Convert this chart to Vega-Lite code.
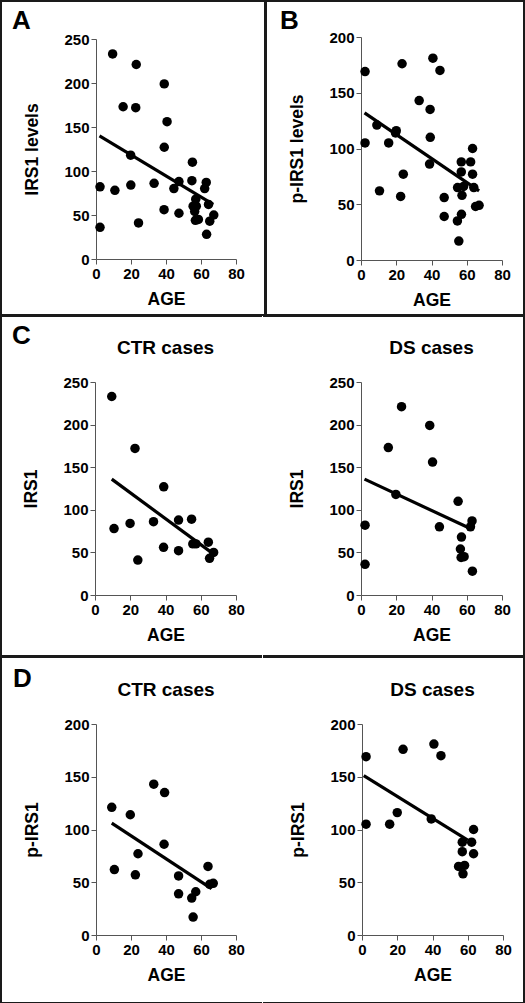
{
  "$schema": "https://vega.github.io/schema/vega-lite/v6.json",
  "padding": 0,
  "background": "white",
  "datasets": {
    "pts": [
      {"group": "CTR", "measure": "IRS1", "age": 9.5, "value": 233},
      {"group": "CTR", "measure": "IRS1", "age": 10.8, "value": 78},
      {"group": "CTR", "measure": "IRS1", "age": 19.9, "value": 84},
      {"group": "CTR", "measure": "IRS1", "age": 22.7, "value": 172},
      {"group": "CTR", "measure": "IRS1", "age": 24.3, "value": 41},
      {"group": "CTR", "measure": "IRS1", "age": 33.2, "value": 86},
      {"group": "CTR", "measure": "IRS1", "age": 39, "value": 127},
      {"group": "CTR", "measure": "IRS1", "age": 38.9, "value": 56},
      {"group": "CTR", "measure": "IRS1", "age": 47.4, "value": 88},
      {"group": "CTR", "measure": "IRS1", "age": 47.4, "value": 52},
      {"group": "CTR", "measure": "IRS1", "age": 54.8, "value": 89},
      {"group": "CTR", "measure": "IRS1", "age": 55.5, "value": 60},
      {"group": "CTR", "measure": "IRS1", "age": 57.3, "value": 60},
      {"group": "CTR", "measure": "IRS1", "age": 64.3, "value": 62},
      {"group": "CTR", "measure": "IRS1", "age": 65, "value": 43},
      {"group": "CTR", "measure": "IRS1", "age": 67.3, "value": 50},
      {"group": "DS", "measure": "IRS1", "age": 2.3, "value": 82},
      {"group": "DS", "measure": "IRS1", "age": 2.3, "value": 36},
      {"group": "DS", "measure": "IRS1", "age": 15.5, "value": 173},
      {"group": "DS", "measure": "IRS1", "age": 19.8, "value": 118},
      {"group": "DS", "measure": "IRS1", "age": 23, "value": 221},
      {"group": "DS", "measure": "IRS1", "age": 39, "value": 199},
      {"group": "DS", "measure": "IRS1", "age": 40.6, "value": 156},
      {"group": "DS", "measure": "IRS1", "age": 44.5, "value": 80},
      {"group": "DS", "measure": "IRS1", "age": 55.1, "value": 110},
      {"group": "DS", "measure": "IRS1", "age": 57, "value": 68},
      {"group": "DS", "measure": "IRS1", "age": 56.4, "value": 54},
      {"group": "DS", "measure": "IRS1", "age": 56.8, "value": 44},
      {"group": "DS", "measure": "IRS1", "age": 58.5, "value": 45},
      {"group": "DS", "measure": "IRS1", "age": 62.1, "value": 80},
      {"group": "DS", "measure": "IRS1", "age": 63, "value": 87},
      {"group": "DS", "measure": "IRS1", "age": 63.2, "value": 28},
      {"group": "CTR", "measure": "pIRS1", "age": 9, "value": 121},
      {"group": "CTR", "measure": "pIRS1", "age": 10.5, "value": 62},
      {"group": "CTR", "measure": "pIRS1", "age": 19.6, "value": 114},
      {"group": "CTR", "measure": "pIRS1", "age": 24, "value": 77},
      {"group": "CTR", "measure": "pIRS1", "age": 22.5, "value": 57},
      {"group": "CTR", "measure": "pIRS1", "age": 33, "value": 143},
      {"group": "CTR", "measure": "pIRS1", "age": 39.2, "value": 135},
      {"group": "CTR", "measure": "pIRS1", "age": 38.9, "value": 86},
      {"group": "CTR", "measure": "pIRS1", "age": 47.2, "value": 56},
      {"group": "CTR", "measure": "pIRS1", "age": 47.2, "value": 39},
      {"group": "CTR", "measure": "pIRS1", "age": 54.7, "value": 35},
      {"group": "CTR", "measure": "pIRS1", "age": 55.5, "value": 17},
      {"group": "CTR", "measure": "pIRS1", "age": 57, "value": 41},
      {"group": "CTR", "measure": "pIRS1", "age": 64, "value": 65},
      {"group": "CTR", "measure": "pIRS1", "age": 65, "value": 48},
      {"group": "CTR", "measure": "pIRS1", "age": 67, "value": 49},
      {"group": "DS", "measure": "pIRS1", "age": 2.3, "value": 169},
      {"group": "DS", "measure": "pIRS1", "age": 2.3, "value": 105},
      {"group": "DS", "measure": "pIRS1", "age": 15.7, "value": 105},
      {"group": "DS", "measure": "pIRS1", "age": 20, "value": 116},
      {"group": "DS", "measure": "pIRS1", "age": 23.3, "value": 176},
      {"group": "DS", "measure": "pIRS1", "age": 39.3, "value": 110},
      {"group": "DS", "measure": "pIRS1", "age": 40.8, "value": 181},
      {"group": "DS", "measure": "pIRS1", "age": 44.8, "value": 170},
      {"group": "DS", "measure": "pIRS1", "age": 54.8, "value": 65},
      {"group": "DS", "measure": "pIRS1", "age": 56.9, "value": 88},
      {"group": "DS", "measure": "pIRS1", "age": 56.9, "value": 79},
      {"group": "DS", "measure": "pIRS1", "age": 57.3, "value": 58},
      {"group": "DS", "measure": "pIRS1", "age": 58.2, "value": 66},
      {"group": "DS", "measure": "pIRS1", "age": 62.2, "value": 88},
      {"group": "DS", "measure": "pIRS1", "age": 63.3, "value": 100},
      {"group": "DS", "measure": "pIRS1", "age": 63.3, "value": 77}
    ],
    "fits": [
      {"panel": "A", "age": 2, "value": 140},
      {"panel": "A", "age": 67, "value": 62},
      {"panel": "B", "age": 2, "value": 132},
      {"panel": "B", "age": 67, "value": 62},
      {"panel": "C-CTR", "age": 9.5, "value": 136},
      {"panel": "C-CTR", "age": 66, "value": 50},
      {"panel": "C-DS", "age": 2, "value": 136},
      {"panel": "C-DS", "age": 62, "value": 78},
      {"panel": "D-CTR", "age": 9, "value": 106},
      {"panel": "D-CTR", "age": 66, "value": 44},
      {"panel": "D-DS", "age": 1, "value": 151},
      {"panel": "D-DS", "age": 60, "value": 90}
    ],
    "labels": [
      {"panel": "C-CTR", "label": "CTR cases"},
      {"panel": "C-DS", "label": "DS cases"},
      {"panel": "D-CTR", "label": "CTR cases"},
      {"panel": "D-DS", "label": "DS cases"}
    ]
  },
  "config": {
    "view": {"stroke": "#1a1a1a", "strokeWidth": 2},
    "font": "Liberation Sans",
    "axis": {
      "labelFont": "Liberation Sans", "labelFontSize": 15, "labelFontWeight": "bold", "labelColor": "#000",
      "titleFont": "Liberation Sans", "titleFontSize": 17.5, "titleFontWeight": "bold", "titleColor": "#000",
      "domainColor": "#555", "tickColor": "#555", "tickSize": 5, "labelPadding": 2, "grid": false,
      "labelFlush": false, "labelOverlap": false
    },
    "axisX": {"titlePadding": 9},
    "axisY": {"titlePadding": 22},
    "title": {"font": "Liberation Sans", "fontSize": 26, "fontWeight": "bold", "color": "#000", "anchor": "start", "frame": "group", "baseline": "alphabetic"},
    "text": {"font": "Liberation Sans", "fontSize": 19, "fontWeight": "bold", "color": "#000"}
  },
  "spacing": -2,
  "vconcat": [
    {
      "spacing": -2,
      "hconcat": [
        {
          "width": 264, "height": 314,
          "title": {"text": "A", "offset": -33, "dx": 11},
          "encoding": {
            "x": {"field": "age", "type": "quantitative", "title": "AGE",
                  "scale": {"domain": [0, 80], "range": [95, 235], "nice": false},
                  "axis": {"values": [0, 20, 40, 60, 80], "offset": -56}},
            "y": {"field": "value", "type": "quantitative", "title": "IRS1 levels",
                  "scale": {"domain": [0, 250], "range": [258, 38], "nice": false},
                  "axis": {"values": [0, 50, 100, 150, 200, 250], "offset": -95}}
          },
          "layer": [
            {"data": {"name": "pts"}, "transform": [{"filter": "datum.measure === 'IRS1'"}],
             "mark": {"type": "circle", "size": 90, "color": "#000", "opacity": 1}},
            {"data": {"name": "fits"}, "transform": [{"filter": "datum.panel === 'A'"}],
             "mark": {"type": "line", "color": "#000", "strokeWidth": 3.2}, "encoding": {}}
          ]
        },
        {
          "width": 258, "height": 314,
          "title": {"text": "B", "offset": -33, "dx": 14},
          "encoding": {
            "x": {"field": "age", "type": "quantitative", "title": "AGE",
                  "scale": {"domain": [0, 80], "range": [95, 236], "nice": false},
                  "axis": {"values": [0, 20, 40, 60, 80], "offset": -55}},
            "y": {"field": "value", "type": "quantitative", "title": "p-IRS1 levels",
                  "scale": {"domain": [0, 200], "range": [259, 36], "nice": false},
                  "axis": {"values": [0, 50, 100, 150, 200], "offset": -95}}
          },
          "layer": [
            {"data": {"name": "pts"}, "transform": [{"filter": "datum.measure === 'pIRS1'"}],
             "mark": {"type": "circle", "size": 90, "color": "#000", "opacity": 1}},
            {"data": {"name": "fits"}, "transform": [{"filter": "datum.panel === 'B'"}],
             "mark": {"type": "line", "color": "#000", "strokeWidth": 3.2}, "encoding": {}}
          ]
        }
      ]
    },
    {
      "spacing": -2,
      "hconcat": [
        {
          "width": 261, "height": 340,
          "view": {"stroke": "#1a1a1a", "strokeWidth": 2, "strokeDash": [261, 340, 601, 0]},
          "title": {"text": "C", "offset": -33, "dx": 11},
          "layer": [
            {"data": {"name": "pts"}, "transform": [{"filter": "datum.measure === 'IRS1' && datum.group === 'CTR'"}],
             "mark": {"type": "circle", "size": 90, "color": "#000", "opacity": 1},
             "encoding": {
               "x": {"field": "age", "type": "quantitative", "title": "AGE",
                     "scale": {"domain": [0, 80], "range": [94, 235], "nice": false},
                     "axis": {"values": [0, 20, 40, 60, 80], "offset": -61}},
               "y": {"field": "value", "type": "quantitative", "title": "IRS1",
                     "scale": {"domain": [0, 250], "range": [279, 66], "nice": false},
                     "axis": {"values": [0, 50, 100, 150, 200, 250], "offset": -94}}}},
            {"data": {"name": "fits"}, "transform": [{"filter": "datum.panel === 'C-CTR'"}],
             "mark": {"type": "line", "color": "#000", "strokeWidth": 3.2},
             "encoding": {
               "x": {"field": "age", "type": "quantitative", "title": "AGE",
                     "axis": {"values": [0, 20, 40, 60, 80], "offset": -61}},
               "y": {"field": "value", "type": "quantitative", "title": "IRS1",
                     "axis": {"values": [0, 50, 100, 150, 200, 250], "offset": -94}}}},
            {"data": {"name": "labels"}, "transform": [{"filter": "datum.panel === 'C-CTR'"}],
             "mark": {"type": "text", "baseline": "alphabetic", "align": "center"},
             "encoding": {
               "x": {"datum": 40, "type": "quantitative", "title": "AGE",
                     "axis": {"values": [0, 20, 40, 60, 80], "offset": -61}},
               "y": {"datum": 283, "type": "quantitative", "title": "IRS1",
                     "axis": {"values": [0, 50, 100, 150, 200, 250], "offset": -94}},
               "text": {"field": "label"}}}
          ]
        },
        {
          "width": 261, "height": 340,
          "view": {"stroke": "#1a1a1a", "strokeWidth": 2, "strokeDash": [862, 340]},
          "layer": [
            {"data": {"name": "pts"}, "transform": [{"filter": "datum.measure === 'IRS1' && datum.group === 'DS'"}],
             "mark": {"type": "circle", "size": 90, "color": "#000", "opacity": 1},
             "encoding": {
               "x": {"field": "age", "type": "quantitative", "title": "AGE",
                     "scale": {"domain": [0, 80], "range": [98, 239], "nice": false},
                     "axis": {"values": [0, 20, 40, 60, 80], "offset": -61}},
               "y": {"field": "value", "type": "quantitative", "title": "IRS1",
                     "scale": {"domain": [0, 250], "range": [279, 66], "nice": false},
                     "axis": {"values": [0, 50, 100, 150, 200, 250], "offset": -98}}}},
            {"data": {"name": "fits"}, "transform": [{"filter": "datum.panel === 'C-DS'"}],
             "mark": {"type": "line", "color": "#000", "strokeWidth": 3.2},
             "encoding": {
               "x": {"field": "age", "type": "quantitative", "title": "AGE",
                     "axis": {"values": [0, 20, 40, 60, 80], "offset": -61}},
               "y": {"field": "value", "type": "quantitative", "title": "IRS1",
                     "axis": {"values": [0, 50, 100, 150, 200, 250], "offset": -98}}}},
            {"data": {"name": "labels"}, "transform": [{"filter": "datum.panel === 'C-DS'"}],
             "mark": {"type": "text", "baseline": "alphabetic", "align": "center"},
             "encoding": {
               "x": {"datum": 40, "type": "quantitative", "title": "AGE",
                     "axis": {"values": [0, 20, 40, 60, 80], "offset": -61}},
               "y": {"datum": 283, "type": "quantitative", "title": "IRS1",
                     "axis": {"values": [0, 50, 100, 150, 200, 250], "offset": -98}},
               "text": {"field": "label"}}}
          ]
        }
      ]
    },
    {
      "spacing": -2,
      "hconcat": [
        {
          "width": 261, "height": 346,
          "view": {"stroke": "#1a1a1a", "strokeWidth": 2, "strokeDash": [261, 346, 607, 0]},
          "title": {"text": "D", "offset": -35, "dx": 12},
          "layer": [
            {"data": {"name": "pts"}, "transform": [{"filter": "datum.measure === 'pIRS1' && datum.group === 'CTR'"}],
             "mark": {"type": "circle", "size": 90, "color": "#000", "opacity": 1},
             "encoding": {
               "x": {"field": "age", "type": "quantitative", "title": "AGE",
                     "scale": {"domain": [0, 80], "range": [95, 235], "nice": false},
                     "axis": {"values": [0, 20, 40, 60, 80], "offset": -68}},
               "y": {"field": "value", "type": "quantitative", "title": "p-IRS1",
                     "scale": {"domain": [0, 200], "range": [278, 67], "nice": false},
                     "axis": {"values": [0, 50, 100, 150, 200], "offset": -95}}}},
            {"data": {"name": "fits"}, "transform": [{"filter": "datum.panel === 'D-CTR'"}],
             "mark": {"type": "line", "color": "#000", "strokeWidth": 3.2},
             "encoding": {
               "x": {"field": "age", "type": "quantitative", "title": "AGE",
                     "axis": {"values": [0, 20, 40, 60, 80], "offset": -68}},
               "y": {"field": "value", "type": "quantitative", "title": "p-IRS1",
                     "axis": {"values": [0, 50, 100, 150, 200], "offset": -95}}}},
            {"data": {"name": "labels"}, "transform": [{"filter": "datum.panel === 'D-CTR'"}],
             "mark": {"type": "text", "baseline": "alphabetic", "align": "center"},
             "encoding": {
               "x": {"datum": 40, "type": "quantitative", "title": "AGE",
                     "axis": {"values": [0, 20, 40, 60, 80], "offset": -68}},
               "y": {"datum": 227, "type": "quantitative", "title": "p-IRS1",
                     "axis": {"values": [0, 50, 100, 150, 200], "offset": -95}},
               "text": {"field": "label"}}}
          ]
        },
        {
          "width": 261, "height": 346,
          "view": {"stroke": "#1a1a1a", "strokeWidth": 2, "strokeDash": [868, 346]},
          "layer": [
            {"data": {"name": "pts"}, "transform": [{"filter": "datum.measure === 'pIRS1' && datum.group === 'DS'"}],
             "mark": {"type": "circle", "size": 90, "color": "#000", "opacity": 1},
             "encoding": {
               "x": {"field": "age", "type": "quantitative", "title": "AGE",
                     "scale": {"domain": [0, 80], "range": [99, 240], "nice": false},
                     "axis": {"values": [0, 20, 40, 60, 80], "offset": -68}},
               "y": {"field": "value", "type": "quantitative", "title": "p-IRS1",
                     "scale": {"domain": [0, 200], "range": [278, 67], "nice": false},
                     "axis": {"values": [0, 50, 100, 150, 200], "offset": -99}}}},
            {"data": {"name": "fits"}, "transform": [{"filter": "datum.panel === 'D-DS'"}],
             "mark": {"type": "line", "color": "#000", "strokeWidth": 3.2},
             "encoding": {
               "x": {"field": "age", "type": "quantitative", "title": "AGE",
                     "axis": {"values": [0, 20, 40, 60, 80], "offset": -68}},
               "y": {"field": "value", "type": "quantitative", "title": "p-IRS1",
                     "axis": {"values": [0, 50, 100, 150, 200], "offset": -99}}}},
            {"data": {"name": "labels"}, "transform": [{"filter": "datum.panel === 'D-DS'"}],
             "mark": {"type": "text", "baseline": "alphabetic", "align": "center"},
             "encoding": {
               "x": {"datum": 40, "type": "quantitative", "title": "AGE",
                     "axis": {"values": [0, 20, 40, 60, 80], "offset": -68}},
               "y": {"datum": 227, "type": "quantitative", "title": "p-IRS1",
                     "axis": {"values": [0, 50, 100, 150, 200], "offset": -99}},
               "text": {"field": "label"}}}
          ]
        }
      ]
    }
  ]
}
